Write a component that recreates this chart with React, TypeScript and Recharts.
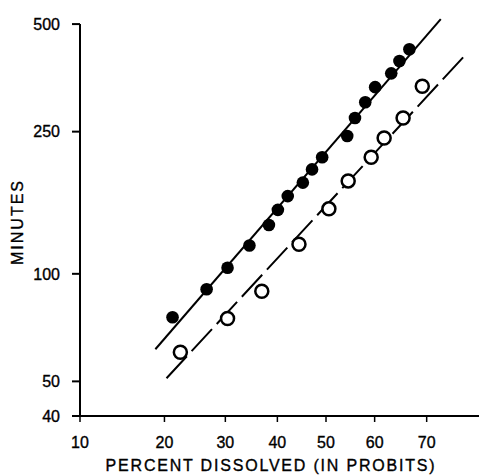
import { ScatterChart, Scatter, XAxis, YAxis, ReferenceLine } from 'recharts';

// percent dissolved (%) and time (minutes)
const solidPct = [21.2, 26.7, 30.4, 34.5, 38.3, 40.1, 42.1, 45.2, 47.1, 49.2, 54.4, 56.0, 58.1, 60.1, 63.3, 64.9, 66.8];
const solidMin = [75.6, 90.5, 104, 120, 137, 151, 165, 180, 196, 212, 243, 273, 302, 333, 364, 394, 425];
const openPct = [22.4, 30.4, 36.9, 44.4, 50.6, 54.6, 59.3, 61.9, 65.6, 69.2];
const openMin = [60.3, 75, 89.4, 121, 152, 182, 212, 240, 273, 335];

// fitted lines (end points)
const solidFitPct = [18.7, 72.5];
const solidFitMin = [61.5, 516];
const openFitPct = [20.3, 77.0];
const openFitMin = [51.0, 417];

const xTickPct = [10, 20, 30, 40, 50, 60, 70];
const yTicks = [40, 50, 100, 250, 500];

// inverse normal cdf (Acklam, central region is enough for 2.5%..97.5%)
const probit = (pct: number) => {
  const a = [-3.969683028665376e1, 2.209460984245205e2, -2.759285104469687e2, 1.38357751867269e2, -3.066479806614716e1, 2.506628277459239];
  const b = [-5.447609879822406e1, 1.615858368580409e2, -1.556989798598866e2, 6.680131188771972e1, -1.328068155288572e1];
  const q = pct / 100 - 0.5;
  const r = q * q;
  return ((((((a[0] * r + a[1]) * r + a[2]) * r + a[3]) * r + a[4]) * r + a[5]) * q) /
    (((((b[0] * r + b[1]) * r + b[2]) * r + b[3]) * r + b[4]) * r + 1);
};

const toPoints = (pct: number[], mins: number[]) => pct.map((p, i) => ({ z: probit(p), min: mins[i] }));

const solid = toPoints(solidPct, solidMin);
const open = toPoints(openPct, openMin);
const solidFit = toPoints(solidFitPct, solidFitMin);
const openFit = toPoints(openFitPct, openFitMin);

const xTicks = xTickPct.map(probit);
const X_MIN = probit(10);
const X_MAX = 0.797;

const FONT = '"Liberation Sans", Arial, sans-serif';
const tickStyle = { fill: '#000', stroke: '#000', strokeWidth: 0.35, fontSize: 16, fontFamily: FONT };

const fmtX = (z: number) => {
  const i = xTicks.findIndex(t => Math.abs(t - z) < 1e-6);
  return i >= 0 ? String(xTickPct[i]) : '';
};

const FilledDot = (p: any) => <circle cx={p.cx} cy={p.cy} r={6.3} fill="#000" />;
const OpenDot = (p: any) => <circle cx={p.cx} cy={p.cy} r={6.5} fill="#fff" stroke="#000" strokeWidth={2.5} />;
const NoDot = () => <g />;

export default function App() {
  return (
    <div style={{ position: 'absolute', left: 0, top: 0, background: '#fff' }}>
      <ScatterChart width={479} height={475} margin={{ top: 18, right: 0, bottom: 0, left: 0 }}>
        <XAxis
          type="number"
          dataKey="z"
          domain={[X_MIN, X_MAX]}
          allowDataOverflow
          ticks={xTicks}
          tickFormatter={fmtX}
          tick={tickStyle}
          tickSize={6}
          tickMargin={15}
          height={59}
          axisLine={{ stroke: '#000', strokeWidth: 2 }}
          tickLine={{ stroke: '#000', strokeWidth: 1.5 }}
          label={{
            content: () => (
              <text x={271} y={471} textAnchor="middle" fill="#000" stroke="#000" strokeWidth={0.35} fontSize={16} letterSpacing={1.8} fontFamily={FONT}>
                PERCENT DISSOLVED (IN PROBITS)
              </text>
            ),
          }}
        />
        <YAxis
          type="number"
          dataKey="min"
          scale="log"
          domain={[40, 520]}
          allowDataOverflow
          ticks={yTicks}
          tick={tickStyle}
          tickSize={8}
          tickMargin={12}
          width={80}
          axisLine={false}
          tickLine={{ stroke: '#000', strokeWidth: 2 }}
          label={{
            content: () => (
              <text x={17} y={222} transform="rotate(-90 17 222)" textAnchor="middle" dominantBaseline="central" fill="#000" stroke="#000" strokeWidth={0.35} fontSize={16} letterSpacing={2} fontFamily={FONT}>
                MINUTES
              </text>
            ),
          }}
        />
        <ReferenceLine segment={[{ x: X_MIN, y: 40 }, { x: X_MIN, y: 500 }]} stroke="#000" strokeWidth={2} />
        <Scatter data={solidFit} shape={NoDot} line={{ stroke: '#000', strokeWidth: 2 }} isAnimationActive={false} />
        <Scatter data={openFit} shape={NoDot} line={{ stroke: '#000', strokeWidth: 2, strokeDasharray: '30 7' }} isAnimationActive={false} />
        <Scatter data={solid} shape={FilledDot} isAnimationActive={false} />
        <Scatter data={open} shape={OpenDot} isAnimationActive={false} />
      </ScatterChart>
    </div>
  );
}
